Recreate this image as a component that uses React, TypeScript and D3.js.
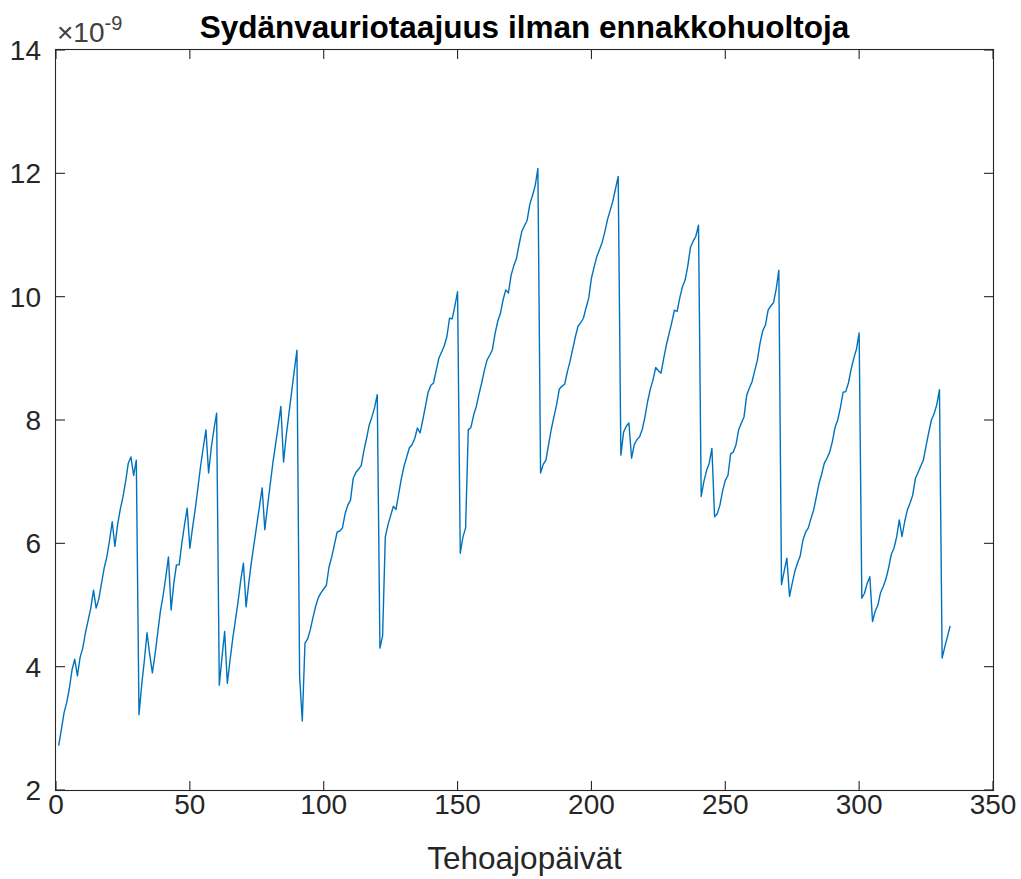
import React from "react";
import * as d3 from "d3";

// Figure size and plot box (pixels)
const WIDTH = 1021;
const HEIGHT = 879;
const BOX = { left: 56, right: 993, top: 50, bottom: 790 };

const title = "Sydänvauriotaajuus ilman ennakkohuoltoja";
const xLabel = "Tehoajopäivät";
const yExponent = "-9";

const xTicks = [0, 50, 100, 150, 200, 250, 300, 350];
const yTicks = [2, 4, 6, 8, 10, 12, 14];

// Core damage frequency per operating day, in units of 1e-9.
// Stored in blocks of roughly 30 days (one refuelling interval each).
const block01 = [2.72, 2.98, 3.25, 3.42, 3.65, 3.95, 4.12, 3.85, 4.15, 4.3, 4.55, 4.75, 4.95, 5.24, 4.95, 5.1, 5.35, 5.6, 5.78, 6.05, 6.35, 5.95, 6.3, 6.55, 6.75, 7.0, 7.3, 7.4, 7.1, 7.35];
const block02 = [3.22, 3.7, 4.1, 4.55, 4.2, 3.9, 4.2, 4.55, 4.9, 5.15, 5.45, 5.78, 4.92, 5.35, 5.65, 5.65, 6.0, 6.3, 6.57, 5.92, 6.25, 6.55, 6.9, 7.25, 7.55, 7.84, 7.14, 7.55, 7.85, 8.11];
const block03 = [3.7, 4.15, 4.57, 3.73, 4.1, 4.45, 4.75, 5.05, 5.4, 5.68, 4.97, 5.35, 5.7, 6.0, 6.3, 6.6, 6.9, 6.22, 6.6, 6.95, 7.3, 7.6, 7.9, 8.22, 7.32, 7.75, 8.1, 8.45, 8.8, 9.13];
const block04 = [3.84, 3.12, 4.38, 4.45, 4.6, 4.8, 4.98, 5.12, 5.2, 5.26, 5.32, 5.62, 5.78, 5.98, 6.18, 6.2, 6.25, 6.48, 6.62, 6.7, 7.05, 7.15, 7.2, 7.26, 7.5, 7.7, 7.92, 8.05, 8.2, 8.41];
const block05 = [4.3, 4.5, 6.1, 6.3, 6.45, 6.6, 6.55, 6.8, 7.05, 7.25, 7.4, 7.55, 7.6, 7.7, 7.87, 7.79, 8.0, 8.22, 8.45, 8.56, 8.6, 8.8, 9.0, 9.1, 9.2, 9.35, 9.65, 9.64, 9.85, 10.08];
const block06 = [5.84, 6.1, 6.25, 7.84, 7.88, 8.08, 8.22, 8.42, 8.6, 8.8, 8.97, 9.05, 9.14, 9.4, 9.6, 9.73, 9.95, 10.11, 10.06, 10.35, 10.5, 10.62, 10.85, 11.06, 11.15, 11.24, 11.5, 11.64, 11.8, 12.08];
const block07 = [7.14, 7.28, 7.35, 7.6, 7.85, 8.05, 8.25, 8.5, 8.55, 8.58, 8.78, 8.95, 9.15, 9.35, 9.52, 9.58, 9.65, 9.82, 9.98, 10.3, 10.48, 10.65, 10.76, 10.88, 11.05, 11.25, 11.4, 11.55, 11.75, 11.95];
const block08 = [7.43, 7.8, 7.9, 7.95, 7.38, 7.6, 7.68, 7.73, 7.85, 8.05, 8.3, 8.5, 8.65, 8.85, 8.8, 8.76, 9.0, 9.22, 9.4, 9.58, 9.78, 9.76, 9.98, 10.16, 10.27, 10.5, 10.8, 10.9, 10.98, 11.16];
const block09 = [6.76, 7.0, 7.18, 7.3, 7.54, 6.43, 6.48, 6.62, 6.85, 7.02, 7.1, 7.45, 7.48, 7.6, 7.84, 7.95, 8.05, 8.4, 8.52, 8.62, 8.8, 8.97, 9.25, 9.45, 9.54, 9.78, 9.85, 9.9, 10.12, 10.43];
const block10 = [5.33, 5.55, 5.76, 5.14, 5.35, 5.55, 5.68, 5.8, 6.05, 6.18, 6.25, 6.4, 6.54, 6.75, 6.97, 7.12, 7.3, 7.38, 7.48, 7.65, 7.88, 8.0, 8.2, 8.45, 8.46, 8.6, 8.82, 9.0, 9.15, 9.41];
const block11 = [5.11, 5.19, 5.35, 5.46, 4.73, 4.9, 5.0, 5.2, 5.3, 5.42, 5.6, 5.82, 5.92, 6.1, 6.38, 6.11, 6.35, 6.54, 6.65, 6.78, 7.05, 7.15, 7.25, 7.35, 7.58, 7.8, 8.0, 8.1, 8.25, 8.49, 4.14, 4.32, 4.49, 4.66];

const frequency: number[] = [
  ...block01, ...block02, ...block03, ...block04, ...block05, ...block06,
  ...block07, ...block08, ...block09, ...block10, ...block11,
];

const AXIS_COLOR = "#262626";
const LINE_COLOR = "#0072BD";
const FONT = "'Liberation Sans', Arial, Helvetica, sans-serif";
const TICK_LEN = 9;

export default function App() {
  const x = d3.scaleLinear().domain([0, 350]).range([BOX.left, BOX.right]);
  const y = d3.scaleLinear().domain([2, 14]).range([BOX.bottom, BOX.top]);

  // Day numbers start at 1
  const path = d3
    .line<number>()
    .x((_, i) => x(i + 1))
    .y((d) => y(d))(frequency) as string;

  const cx = (BOX.left + BOX.right) / 2;

  return (
    <svg
      width={WIDTH}
      height={HEIGHT}
      style={{ position: "absolute", left: 0, top: 0, background: "#fff" }}
      fontFamily={FONT}
    >
      <rect x={0} y={0} width={WIDTH} height={HEIGHT} fill="#fff" />

      {/* data line */}
      <path d={path} fill="none" stroke={LINE_COLOR} strokeWidth={1.4} strokeLinejoin="round" />

      {/* box */}
      <rect
        x={BOX.left - 0.5}
        y={BOX.top - 0.5}
        width={BOX.right - BOX.left + 1}
        height={BOX.bottom - BOX.top + 1}
        fill="none"
        stroke={AXIS_COLOR}
        strokeWidth={1.1}
      />

      {/* x ticks (inward, bottom and top) */}
      {xTicks.map((t) => (
        <g key={`xt${t}`}>
          <line x1={x(t)} x2={x(t)} y1={BOX.bottom} y2={BOX.bottom - TICK_LEN} stroke={AXIS_COLOR} strokeWidth={1.1} />
          <line x1={x(t)} x2={x(t)} y1={BOX.top} y2={BOX.top + TICK_LEN} stroke={AXIS_COLOR} strokeWidth={1.1} />
          <text x={x(t)} y={BOX.bottom + 24} textAnchor="middle" fontSize={28} fill={AXIS_COLOR}>
            {t}
          </text>
        </g>
      ))}

      {/* y ticks (inward, left and right) */}
      {yTicks.map((t) => (
        <g key={`yt${t}`}>
          <line x1={BOX.left} x2={BOX.left + TICK_LEN} y1={y(t)} y2={y(t)} stroke={AXIS_COLOR} strokeWidth={1.1} />
          <line x1={BOX.right} x2={BOX.right - TICK_LEN} y1={y(t)} y2={y(t)} stroke={AXIS_COLOR} strokeWidth={1.1} />
          <text x={BOX.left - 15} y={y(t) + 10} textAnchor="end" fontSize={28} fill={AXIS_COLOR}>
            {t}
          </text>
        </g>
      ))}

      {/* axis exponent */}
      <text x={BOX.left + 1} y={BOX.top - 8} fontSize={28} fill="#404040">
        ×10
        <tspan dy={-12} fontSize={20}>
          {yExponent}
        </tspan>
      </text>

      {/* title */}
      <text x={cx} y={38} textAnchor="middle" fontSize={31.5} fontWeight="bold" fill="#000">
        {title}
      </text>

      {/* x label */}
      <text x={cx} y={869} textAnchor="middle" fontSize={31.5} fill={AXIS_COLOR}>
        {xLabel}
      </text>
    </svg>
  );
}
